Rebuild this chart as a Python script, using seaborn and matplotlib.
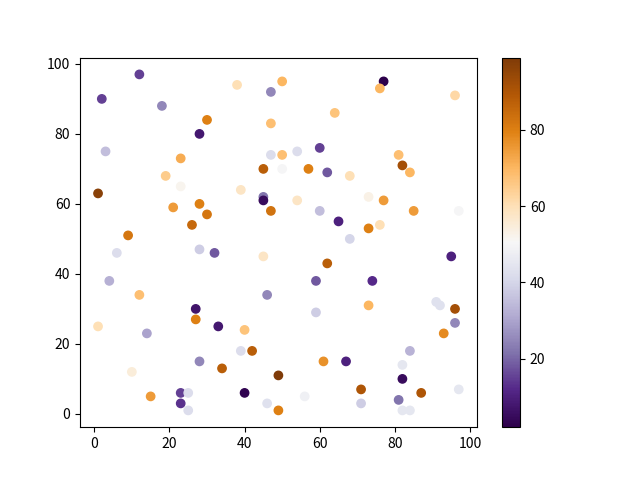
import matplotlib
matplotlib.use("Agg")
import matplotlib.pyplot as plt
import seaborn as sns
import pandas as pd
import numpy as np
from matplotlib.colors import Normalize
from matplotlib.cm import ScalarMappable

plt.rcParams['font.family'] = ['Noto Sans CJK SC', 'DejaVu Sans']

x_vals = [12, 2, 18, 38, 47, 50, 30, 28, 47, 3, 23, 47, 50, 45, 50, 19, 23, 39, 1, 45,
          45, 47, 21, 28, 30, 26, 9, 77, 76, 96, 64, 60, 54, 81, 82, 84, 57, 62, 68, 73,
          77, 54, 60, 85, 97, 65, 73, 76, 68, 6, 28, 32, 45, 4, 12, 46, 27, 27, 1, 33,
          40, 14, 39, 42, 28, 34, 10, 49, 15, 23, 25, 23, 25, 40, 46, 49, 95, 62, 59, 74,
          59, 73, 91, 92, 96, 96, 93, 84, 61, 67, 82, 82, 71, 87, 56, 97, 71, 81, 82, 84]
y_vals = [97, 90, 88, 94, 92, 95, 84, 80, 83, 75, 73, 74, 74, 70, 70, 68, 65, 64, 63, 62,
          61, 58, 59, 60, 57, 54, 51, 95, 93, 91, 86, 76, 75, 74, 71, 69, 70, 69, 68, 62,
          61, 61, 58, 58, 58, 55, 53, 54, 50, 46, 47, 46, 45, 38, 34, 34, 30, 27, 25, 25,
          24, 23, 18, 18, 15, 13, 12, 11, 5, 6, 6, 3, 1, 6, 3, 1, 45, 43, 38, 38,
          29, 31, 32, 31, 30, 26, 23, 18, 15, 15, 14, 10, 7, 6, 5, 7, 3, 4, 1, 1]
c_vals = [15, 15, 25, 60, 25, 70, 80, 8, 68, 35, 72, 42, 68, 88, 50, 65, 52, 58, 97, 22,
          5, 83, 75, 80, 82, 85, 82, 2, 70, 62, 67, 15, 42, 68, 92, 70, 80, 18, 60, 53,
          75, 58, 35, 75, 50, 10, 80, 60, 40, 42, 38, 18, 58, 32, 68, 25, 7, 80, 60, 8,
          67, 30, 42, 88, 25, 88, 55, 99, 75, 15, 42, 13, 42, 3, 43, 80, 10, 88, 18, 12,
          38, 70, 43, 43, 92, 25, 78, 33, 77, 10, 45, 5, 90, 90, 48, 45, 38, 22, 45, 45]

df = pd.DataFrame({"x": x_vals, "y": y_vals, "c": c_vals})

fig, ax = plt.subplots(figsize=(6.4, 4.8), dpi=100)
norm = Normalize(vmin=min(c_vals), vmax=max(c_vals))
sns.scatterplot(data=df, x="x", y="y", hue="c", palette="PuOr_r", hue_norm=norm,
                s=36, linewidth=1, edgecolor="face", legend=False, ax=ax)
ax.set_xlabel("")
ax.set_ylabel("")
sm = ScalarMappable(norm=norm, cmap="PuOr_r")
fig.colorbar(sm, ax=ax)
fig.savefig("out.png", dpi=100)
